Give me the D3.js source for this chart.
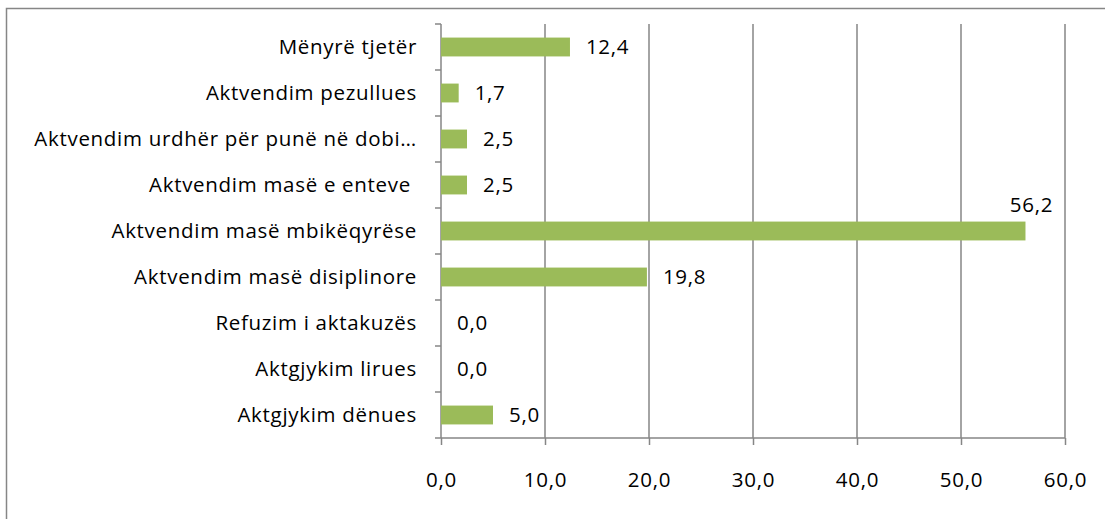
<!DOCTYPE html>
<html>
<head>
<meta charset="utf-8">
<script src="https://cdn.jsdelivr.net/npm/d3@7"></script>
<style>
  body { margin: 0; background: #fff; }
  text { font-family: "Open Sans", sans-serif; fill: #000; }
</style>
</head>
<body>
<script>
var categories = [
    'Mënyrë tjetër',
    'Aktvendim pezullues',
    'Aktvendim urdhër për punë në dobi…',
    'Aktvendim masë e enteve ',
    'Aktvendim masë mbikëqyrëse',
    'Aktvendim masë disiplinore',
    'Refuzim i aktakuzës',
    'Aktgjykim lirues',
    'Aktgjykim dënues'
];
var values = [12.4, 1.7, 2.5, 2.5, 56.2, 19.8, 0.0, 0.0, 5.0];
var xTicks = [0, 10, 20, 30, 40, 50, 60];

var svgWidth = 1105, svgHeight = 519;
var plot = { left: 441, right: 1065, top: 24, bottom: 438 };
var fontSize = '20.5px', spacing = '0.7px';

var svg = d3.select('body')
    .append('svg')
    .attr('width', svgWidth)
    .attr('height', svgHeight);

// outer chart border (cut at right and bottom like the source)
svg.append('path')
    .attr('d', 'M6.5,' + svgHeight + 'V8.5H' + svgWidth)
    .attr('fill', 'none')
    .attr('stroke', '#868686')
    .attr('stroke-width', 1.5);

var xScale = d3.scaleLinear()
    .domain([0, 60])
    .range([plot.left, plot.right]);

var yScale = d3.scaleBand()
    .domain(categories)
    .range([plot.top, plot.bottom])
    .paddingInner(0.59)
    .paddingOuter(0.295);

var fmt = function(v) { return v.toFixed(1).replace('.', ','); };

// gridlines
svg.append('g')
    .selectAll('line')
    .data(xTicks.slice(1))
    .enter()
    .append('line')
    .attr('x1', function(d) { return xScale(d); })
    .attr('x2', function(d) { return xScale(d); })
    .attr('y1', plot.top)
    .attr('y2', plot.bottom)
    .attr('stroke', '#868686')
    .attr('stroke-width', 1.5);

// x axis
var xAxis = svg.append('g')
    .attr('transform', 'translate(0,' + plot.bottom + ')')
    .call(d3.axisBottom(xScale).tickValues(xTicks).tickSize(7).tickPadding(27).tickFormat(fmt));
xAxis.selectAll('line, path').attr('stroke', '#868686').attr('stroke-width', 1.5);
xAxis.select('.domain').attr('d', 'M' + plot.left + ',0H' + plot.right);
xAxis.selectAll('text')
    .style('font-size', fontSize)
    .style('letter-spacing', spacing)
    .attr('font-family', null)
    .attr('fill', '#000');

// y axis with ticks between categories
var yAxis = svg.append('g')
    .attr('transform', 'translate(' + plot.left + ',0)');
yAxis.append('line')
    .attr('y1', plot.top).attr('y2', plot.bottom)
    .attr('stroke', '#868686').attr('stroke-width', 1.5);
var step = yScale.step();
yAxis.selectAll('.tk')
    .data(d3.range(categories.length + 1))
    .enter()
    .append('line')
    .attr('class', 'tk')
    .attr('x1', -6).attr('x2', 0)
    .attr('y1', function(i) { return plot.top + i * step; })
    .attr('y2', function(i) { return plot.top + i * step; })
    .attr('stroke', '#868686').attr('stroke-width', 1.5);

yAxis.selectAll('.lbl')
    .data(categories)
    .enter()
    .append('text')
    .attr('class', 'lbl')
    .attr('x', -24)
    .attr('y', function(d) { return yScale(d) + yScale.bandwidth() / 2; })
    .attr('dy', '0.35em')
    .attr('text-anchor', 'end')
    .style('font-size', fontSize)
    .style('letter-spacing', spacing)
    .style('white-space', 'pre')
    .text(function(d) { return d; });

// bars
svg.append('g')
    .selectAll('rect')
    .data(values)
    .enter()
    .append('rect')
    .attr('x', xScale(0))
    .attr('y', function(d, i) { return yScale(categories[i]); })
    .attr('width', function(d) { return xScale(d) - xScale(0); })
    .attr('height', yScale.bandwidth())
    .attr('fill', '#9BBB59');

// value labels; the one near the right edge goes above its bar
var nearEdge = function(d) { return xScale(d) > plot.right - 80; };
svg.append('g')
    .selectAll('text')
    .data(values)
    .enter()
    .append('text')
    .attr('x', function(d) { return nearEdge(d) ? xScale(d) + 6 : xScale(d) + 16; })
    .attr('y', function(d, i) {
        var c = yScale(categories[i]) + yScale.bandwidth() / 2;
        return nearEdge(d) ? c - 26 : c;
    })
    .attr('dy', '0.35em')
    .attr('text-anchor', function(d) { return nearEdge(d) ? 'middle' : 'start'; })
    .style('font-size', fontSize)
    .style('letter-spacing', spacing)
    .text(fmt);
</script>
</body>
</html>
